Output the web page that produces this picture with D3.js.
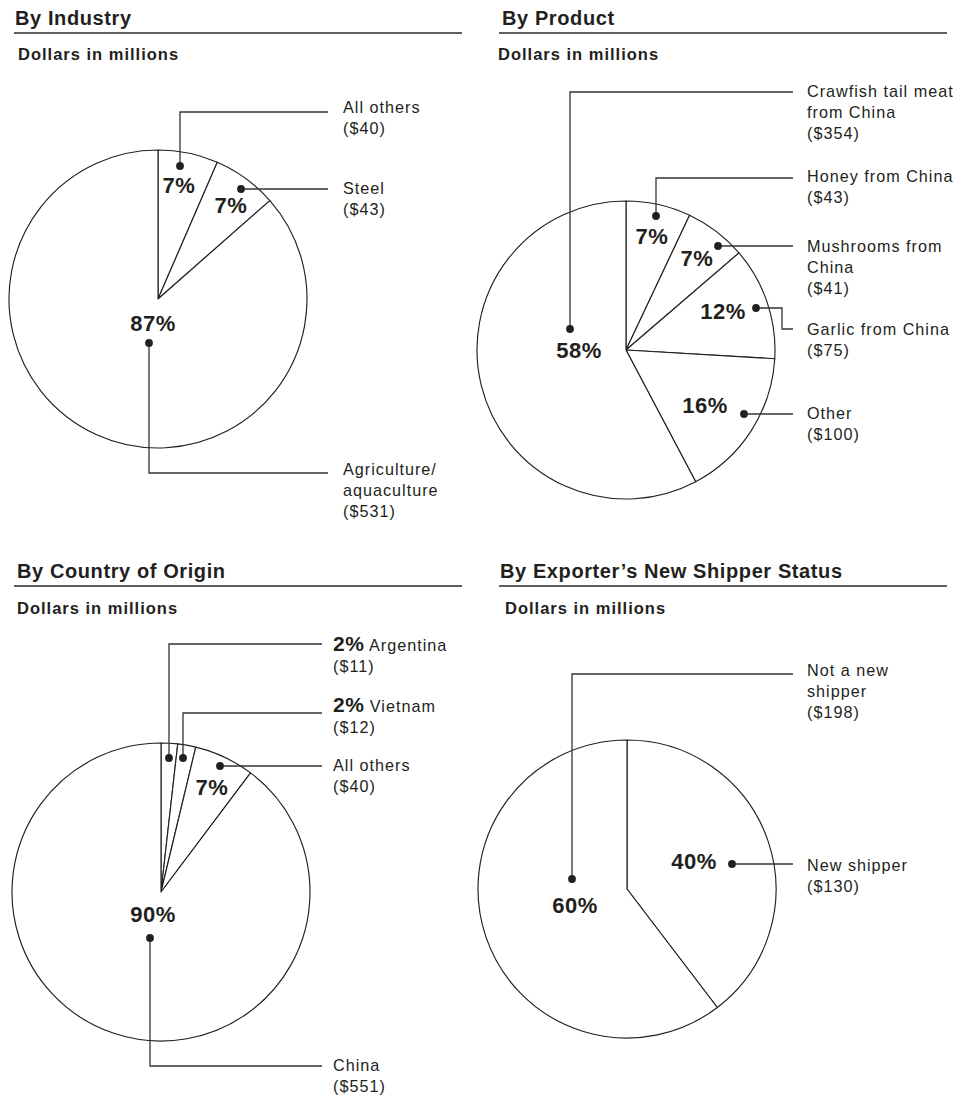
<!DOCTYPE html>
<html>
<head>
<meta charset="utf-8">
<script src="https://cdn.jsdelivr.net/npm/d3@7"></script>
<style>
  html, body { margin: 0; padding: 0; background: #fff; }
  svg { display: block; font-family: "Liberation Sans", Arial, Helvetica, sans-serif; }
</style>
</head>
<body>
<svg id="chart" width="972" height="1098"></svg>
<script>
// ---- Data (dollars in millions) ----
const industryCats   = [["All others"], ["Steel"], ["Agriculture/", "aquaculture"]];
const industryValues = [40, 43, 531];
const industryPct    = [7, 7, 87];

const productCats    = [["Honey from China"], ["Mushrooms from", "China"], ["Garlic from China"], ["Other"], ["Crawfish tail meat", "from China"]];
const productValues  = [43, 41, 75, 100, 354];
const productPct     = [7, 7, 12, 16, 58];

const countryCats    = [["Argentina"], ["Vietnam"], ["All others"], ["China"]];
const countryValues  = [11, 12, 40, 551];
const countryPct     = [2, 2, 7, 90];

const shipperCats    = [["New shipper"], ["Not a new", "shipper"]];
const shipperValues  = [130, 198];
const shipperPct     = [40, 60];

// ---- Layout of the four panels and their callouts ----
// dot: callout marker; path: leader bends after the dot; pct: percent label (center, baseline)
// text: first baseline of the callout text; inline: percent printed in front of the name
const panels = [
  {
    title: "By Industry", titleX: 15, titleY: 25, rule: [14, 462, 33], subX: 18, subY: 60,
    cx: 158, cy: 299, r: 149, cats: industryCats, values: industryValues, pct: industryPct,
    callouts: [
      { dot: [180, 166], path: [[180, 112], [328, 112]], pct: [179, 193], text: [343, 113] },
      { dot: [241, 189], path: [[328, 189]],            pct: [231, 213], text: [343, 194] },
      { dot: [149, 343], path: [[149, 473], [328, 473]], pct: [153, 331], text: [343, 475] }
    ]
  },
  {
    title: "By Product", titleX: 502, titleY: 25, rule: [499, 947, 33], subX: 498, subY: 60,
    cx: 626, cy: 350, r: 149, cats: productCats, values: productValues, pct: productPct,
    callouts: [
      { dot: [656, 216], path: [[656, 178], [793, 178]], pct: [652, 244], text: [807, 182] },
      { dot: [718, 246], path: [[793, 246]],             pct: [697, 266], text: [807, 252] },
      { dot: [756, 308], path: [[782, 308], [782, 329], [793, 329]], pct: [723, 319], text: [807, 335] },
      { dot: [744, 414], path: [[793, 414]],             pct: [705, 413], text: [807, 419] },
      { dot: [570, 329], path: [[570, 92], [793, 92]],   pct: [579, 358], text: [807, 97] }
    ]
  },
  {
    title: "By Country of Origin", titleX: 17, titleY: 578, rule: [14, 462, 586], subX: 17, subY: 614,
    cx: 161, cy: 892, r: 149, cats: countryCats, values: countryValues, pct: countryPct,
    callouts: [
      { dot: [169, 758], path: [[169, 644], [322, 644]], inline: true, text: [333, 651] },
      { dot: [183, 758], path: [[183, 713], [322, 713]], inline: true, text: [333, 712] },
      { dot: [220, 766], path: [[322, 766]],             pct: [212, 795], text: [333, 771] },
      { dot: [150, 938], path: [[150, 1066], [322, 1066]], pct: [153, 922], text: [333, 1071] }
    ]
  },
  {
    title: "By Exporter\u2019s New Shipper Status", titleX: 500, titleY: 578, rule: [499, 947, 586], subX: 505, subY: 614,
    cx: 627, cy: 889, r: 149, cats: shipperCats, values: shipperValues, pct: shipperPct,
    callouts: [
      { dot: [732, 864], path: [[793, 864]],             pct: [694, 869], text: [807, 871] },
      { dot: [572, 879], path: [[572, 674], [793, 674]], pct: [575, 913], text: [807, 676] }
    ]
  }
];

const INK = "#231f20";
const LINE_H = 21;

const svg = d3.select("#chart");
const pie = d3.pie().sort(null).value(d => d);

panels.forEach(p => {
  const g = svg.append("g");

  // Heading and rule
  g.append("text")
    .attr("x", p.titleX).attr("y", p.titleY)
    .attr("font-size", 20).attr("font-weight", "bold")
    .attr("letter-spacing", 0.6).attr("fill", INK)
    .text(p.title);
  g.append("line")
    .attr("x1", p.rule[0]).attr("x2", p.rule[1])
    .attr("y1", p.rule[2]).attr("y2", p.rule[2])
    .attr("stroke", "#5f5f5f").attr("stroke-width", 2);
  g.append("text")
    .attr("x", p.subX).attr("y", p.subY)
    .attr("font-size", 16.5).attr("font-weight", "bold")
    .attr("letter-spacing", 1.0).attr("fill", INK)
    .text("Dollars in millions");

  // Pie slices
  const arc = d3.arc().innerRadius(0).outerRadius(p.r);
  g.append("g")
    .attr("transform", `translate(${p.cx},${p.cy})`)
    .selectAll("path")
    .data(pie(p.values))
    .join("path")
    .attr("d", arc)
    .attr("fill", "#fff")
    .attr("stroke", INK)
    .attr("stroke-width", 1.15)
    .attr("stroke-linejoin", "round");

  // Callouts
  p.callouts.forEach((c, i) => {
    const pts = [c.dot].concat(c.path);
    g.append("path")
      .attr("d", d3.line()(pts))
      .attr("fill", "none")
      .attr("stroke", "#333")
      .attr("stroke-width", 1.3);
    g.append("circle")
      .attr("cx", c.dot[0]).attr("cy", c.dot[1]).attr("r", 3.9)
      .attr("fill", INK);

    if (c.pct) {
      g.append("text")
        .attr("x", c.pct[0]).attr("y", c.pct[1])
        .attr("text-anchor", "middle")
        .attr("font-size", 22).attr("font-weight", "bold")
        .attr("letter-spacing", 0.5).attr("fill", INK)
        .text(p.pct[i] + "%");
    }

    const lines = p.cats[i].concat([`($${p.values[i]})`]);
    const t = g.append("text")
      .attr("x", c.text[0]).attr("y", c.text[1])
      .attr("font-size", 16.2).attr("letter-spacing", 1.0).attr("fill", INK);
    lines.forEach((ln, k) => {
      const ts = t.append("tspan").attr("x", c.text[0]).attr("dy", k === 0 ? 0 : LINE_H);
      if (k === 0 && c.inline) {
        ts.append("tspan").attr("font-size", 21).attr("font-weight", "bold")
          .attr("letter-spacing", 0.5).text(p.pct[i] + "%");
        ts.append("tspan").text(" " + ln);
      } else {
        ts.text(ln);
      }
    });
  });
});
</script>
</body>
</html>
